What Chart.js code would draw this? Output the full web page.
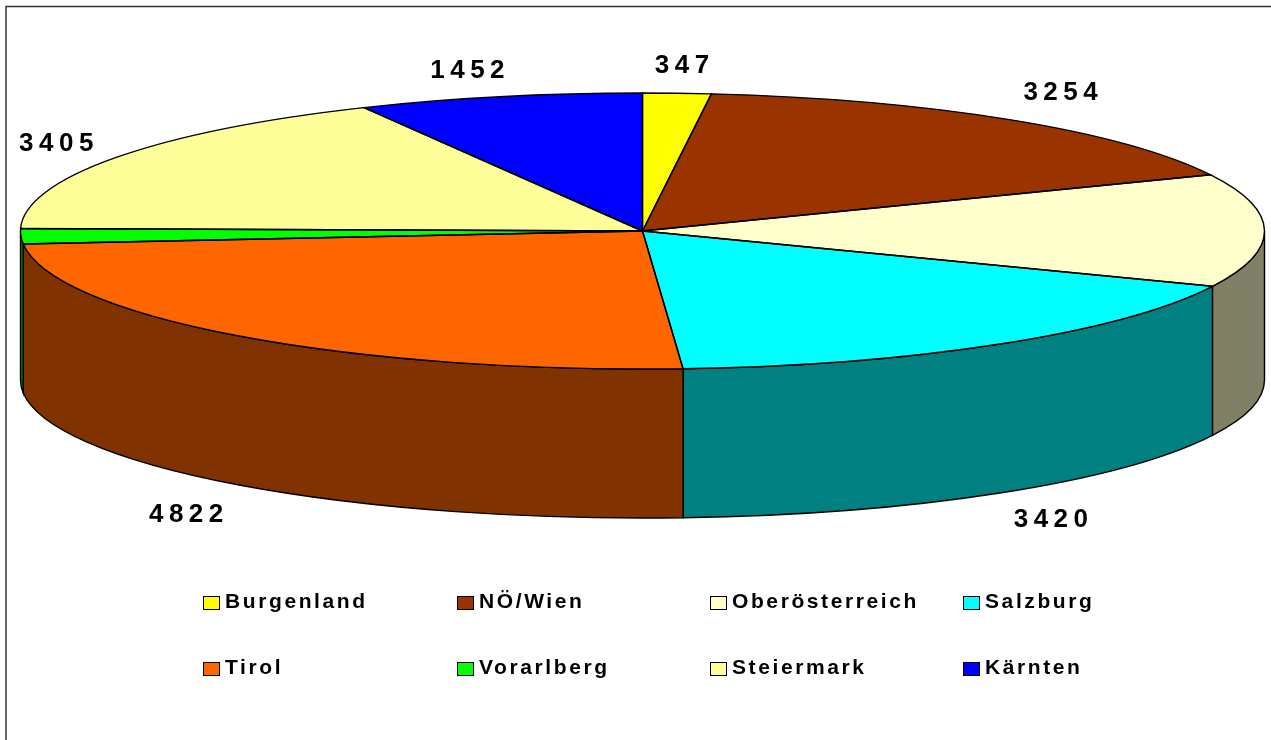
<!DOCTYPE html>
<html>
<head>
<meta charset="utf-8">
<title>Pie</title>
<script src="https://cdn.jsdelivr.net/npm/chart.js@4"></script>
<style>
  html, body { margin: 0; padding: 0; background: #fff; overflow: hidden; }
  canvas { display: block; }
</style>
</head>
<body>
<canvas id="pieChart" width="1271" height="740"></canvas>
<script>
const regions = ['Burgenland', 'NÖ/Wien', 'Oberösterreich', 'Salzburg', 'Tirol', 'Vorarlberg', 'Steiermark', 'Kärnten'];
// Oberösterreich and Vorarlberg have no label in the picture
const values = [347, 3254, 2600, 3420, 4822, 350, 3405, 1452];
const shownLabels = ['347', '3254', null, '3420', '4822', null, '3405', '1452'];
const colors = ['#ffff00', '#993300', '#ffffcc', '#00ffff', '#ff6600', '#00ff00', '#ffff99', '#0000ff'];

// label nudges away from the rim point of each slice
const labelNudge = [[5, -27], [51, -27], null, [51, 27], [-53, 30], null, [-60, -14], [-32, -26]];

const disc = { cx: 642.5, cy: 231, rx: 622, ry: 138, depth: 149 };
const legendCols = [203, 457, 710, 963];
const legendRows = [596, 662];
const legendPerRow = 4;

const halfColor = (hex) => {
  const n = parseInt(hex.slice(1), 16);
  const part = (s) => Math.round(((n >> s) & 255) / 2);
  return `rgb(${part(16)},${part(8)},${part(0)})`;
};

const discPlugin = {
  id: 'disc',
  beforeDatasetsDraw(chart) {
    const ctx = chart.ctx;
    const arcs = chart.getDatasetMeta(0).data;

    // frame
    ctx.save();
    ctx.strokeStyle = '#333';
    ctx.lineWidth = 1.5;
    ctx.beginPath();
    ctx.moveTo(6, 742);
    ctx.lineTo(6, 6.5);
    ctx.lineTo(1273, 6.5);
    ctx.stroke();
    ctx.restore();

    // side wall, only the front half of the disc shows one
    ctx.save();
    ctx.lineWidth = 1.4;
    ctx.strokeStyle = '#000';
    arcs.forEach((arc, i) => {
      const a0 = Math.max(arc.startAngle, 0);
      const a1 = Math.min(arc.endAngle, Math.PI);
      if (a1 <= a0) return;
      ctx.fillStyle = halfColor(colors[i]);
      ctx.beginPath();
      ctx.ellipse(disc.cx, disc.cy, disc.rx, disc.ry, 0, a0, a1);
      ctx.ellipse(disc.cx, disc.cy + disc.depth, disc.rx, disc.ry, 0, a1, a0, true);
      ctx.closePath();
      ctx.fill();
      ctx.stroke();
    });
    ctx.restore();

    // squash the library's round pie into the top of the disc
    const first = arcs[0];
    const k = first.outerRadius;
    ctx.save();
    ctx.translate(disc.cx, disc.cy);
    ctx.scale(disc.rx / k, disc.ry / k);
    ctx.translate(-first.x, -first.y);
  },
  afterDatasetsDraw(chart) {
    const ctx = chart.ctx;
    const arcs = chart.getDatasetMeta(0).data;
    ctx.restore();

    // outlines here so the line width stays even after the squash
    ctx.save();
    ctx.lineWidth = 1.4;
    ctx.strokeStyle = '#000';
    arcs.forEach((arc) => {
      ctx.beginPath();
      ctx.moveTo(disc.cx, disc.cy);
      ctx.ellipse(disc.cx, disc.cy, disc.rx, disc.ry, 0, arc.startAngle, arc.endAngle);
      ctx.closePath();
      ctx.stroke();
    });

    // value labels
    ctx.fillStyle = '#000';
    ctx.font = 'bold 26px "Liberation Sans", Arial, sans-serif';
    ctx.letterSpacing = '5.5px';
    ctx.textAlign = 'center';
    ctx.textBaseline = 'middle';
    arcs.forEach((arc, i) => {
      if (!shownLabels[i]) return;
      const mid = (arc.startAngle + arc.endAngle) / 2;
      const sin = Math.sin(mid);
      const x = disc.cx + disc.rx * Math.cos(mid) + labelNudge[i][0];
      const y = disc.cy + disc.ry * sin + (sin > 0 ? disc.depth : 0) + labelNudge[i][1];
      ctx.fillText(shownLabels[i], x + 2.75, y);
    });

    // legend
    ctx.font = 'bold 21px "Liberation Sans", Arial, sans-serif';
    ctx.letterSpacing = '2.6px';
    ctx.textAlign = 'left';
    ctx.textBaseline = 'alphabetic';
    regions.forEach((name, i) => {
      const x = legendCols[i % legendPerRow];
      const y = legendRows[Math.floor(i / legendPerRow)];
      ctx.fillStyle = colors[i];
      ctx.fillRect(x + 0.5, y + 0.5, 16, 13);
      ctx.strokeStyle = '#000';
      ctx.lineWidth = 1;
      ctx.strokeRect(x + 0.5, y + 0.5, 16, 13);
      ctx.fillStyle = '#000';
      ctx.fillText(name, x + 22, y + 11.5);
    });
    ctx.restore();
  }
};

new Chart(document.getElementById('pieChart'), {
  type: 'pie',
  data: {
    labels: regions,
    datasets: [{
      data: values,
      backgroundColor: colors,
      borderWidth: 0,
      clip: false
    }]
  },
  options: {
    responsive: false,
    animation: false,
    plugins: {
      legend: { display: false },
      tooltip: { enabled: false }
    }
  },
  plugins: [discPlugin]
});
</script>
</body>
</html>
